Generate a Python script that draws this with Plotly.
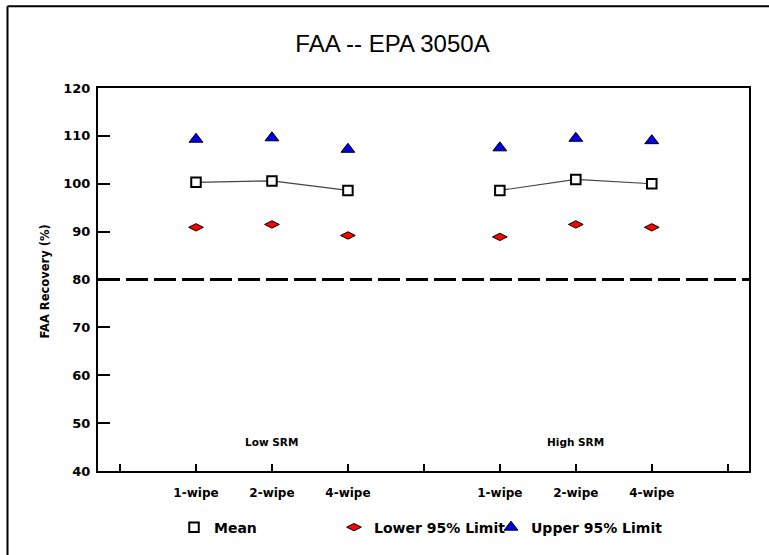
import plotly.graph_objects as go

# --- data -------------------------------------------------------------
wipes = ["1-wipe", "2-wipe", "4-wipe"]
groups = ["Low SRM", "High SRM"]

mean_low = [100.3, 100.6, 98.6]
mean_high = [98.6, 100.9, 100.0]
lower_low = [90.9, 91.5, 89.2]
lower_high = [88.9, 91.5, 90.9]
upper_low = [109.3, 109.6, 107.2]
upper_high = [107.5, 109.5, 109.0]

y_ticks = [40, 50, 60, 70, 80, 90, 100, 110, 120]
acceptance_limit = 80

# --- layout helpers ---------------------------------------------------
W, H = 769, 555
L, R, T, B = 98, 20, 88, 81
PW, PH = W - L - R, H - T - B


def px_x(px):
    return (px - L) / PW


def px_y(py):
    return (H - B - py) / PH


n = len(wipes)
low_x = [i + 1 for i in range(n)]
high_x = [i + n + 2 for i in range(n)]
group_centers = [low_x[n // 2], high_x[n // 2]]
all_ticks = list(range(0, 2 * n + 3))
tick_text = [""] + wipes + [""] + wipes + [""]

BOLD = dict(family="DejaVu Sans", color="black", weight="bold")

fig = go.Figure()

# mean connecting lines (one per group)
for xs, ys in ((low_x, mean_low), (high_x, mean_high)):
    fig.add_trace(go.Scatter(
        x=xs, y=ys, mode="lines", showlegend=False, hoverinfo="skip",
        line=dict(color="#444444", width=1.2)))

fig.add_trace(go.Scatter(
    x=low_x + high_x, y=mean_low + mean_high, mode="markers", name="Mean",
    legend="legend",
    marker=dict(symbol="square", size=9.5, color="white",
                line=dict(color="black", width=2))))

fig.add_trace(go.Scatter(
    x=low_x + high_x, y=lower_low + lower_high, mode="markers",
    name="Lower 95% Limit", legend="legend2",
    marker=dict(symbol="diamond-wide", size=10.5, color="#ff0000",
                line=dict(color="black", width=1))))

fig.add_trace(go.Scatter(
    x=low_x + high_x, y=upper_low + upper_high, mode="markers",
    name="Upper 95% Limit", legend="legend3",
    marker=dict(symbol="triangle-up", size=12, color="#0000e6",
                line=dict(color="black", width=1))))

# dashed acceptance line
fig.add_shape(type="line", xref="paper", yref="y", x0=0, x1=1,
              y0=acceptance_limit, y1=acceptance_limit,
              line=dict(color="black", width=3, dash="22px,6px"))

# outer frame (top and left edges)
fig.add_shape(type="line", xref="paper", yref="paper",
              x0=px_x(7.5), x1=px_x(W + 5), y0=px_y(5.5), y1=px_y(5.5),
              line=dict(color="black", width=2))
fig.add_shape(type="line", xref="paper", yref="paper",
              x0=px_x(7.5), x1=px_x(7.5), y0=px_y(5.5), y1=px_y(H + 5),
              line=dict(color="black", width=2))

# group labels inside the plot
for cx, g in zip(group_centers, groups):
    fig.add_annotation(x=cx, y=px_y(445), xref="x", yref="paper",
                       xanchor="center", yanchor="middle",
                       text=g, showarrow=False,
                       font=dict(size=10.5, **BOLD))

# y-axis title
fig.add_annotation(x=px_x(45), y=px_y(283), xref="paper", yref="paper",
                   xanchor="center", yanchor="middle",
                   text="FAA Recovery (%)", textangle=-90, showarrow=False,
                   font=dict(size=11.5, **BOLD))

legend_common = dict(orientation="v", yanchor="middle", xanchor="left",
                     bgcolor="rgba(0,0,0,0)", borderwidth=0,
                     font=dict(size=14, **BOLD))

fig.update_layout(
    width=W, height=H,
    margin=dict(l=L, r=R, t=T, b=B),
    paper_bgcolor="white", plot_bgcolor="white",
    title=dict(text="FAA -- EPA 3050A", xref="paper", x=px_x(392.5),
               xanchor="center", yref="container", y=1 - 44 / H,
               yanchor="middle",
               font=dict(family="Liberation Sans", size=24, color="black")),
    legend=dict(x=px_x(174), y=px_y(531), **legend_common),
    legend2=dict(x=px_x(334), y=px_y(531), **legend_common),
    legend3=dict(x=px_x(491), y=px_y(531), **legend_common),
    xaxis=dict(range=[-0.29, 8.28], tickmode="array", tickvals=all_ticks,
               ticktext=tick_text, ticks="inside", ticklen=7, tickwidth=2,
               tickcolor="black", showline=True, linecolor="black",
               linewidth=2, mirror=True, showgrid=False, zeroline=False,
               ticklabelstandoff=10, tickfont=dict(size=12, **BOLD)),
    yaxis=dict(range=[40, 120], tickmode="array", tickvals=y_ticks,
               ticks="inside", ticklen=12, tickwidth=2, tickcolor="black",
               showline=True, linecolor="black", linewidth=2, mirror=True,
               showgrid=False, zeroline=False, ticklabelstandoff=3,
               tickfont=dict(size=13, **BOLD)),
)

fig.write_html("out.html")
